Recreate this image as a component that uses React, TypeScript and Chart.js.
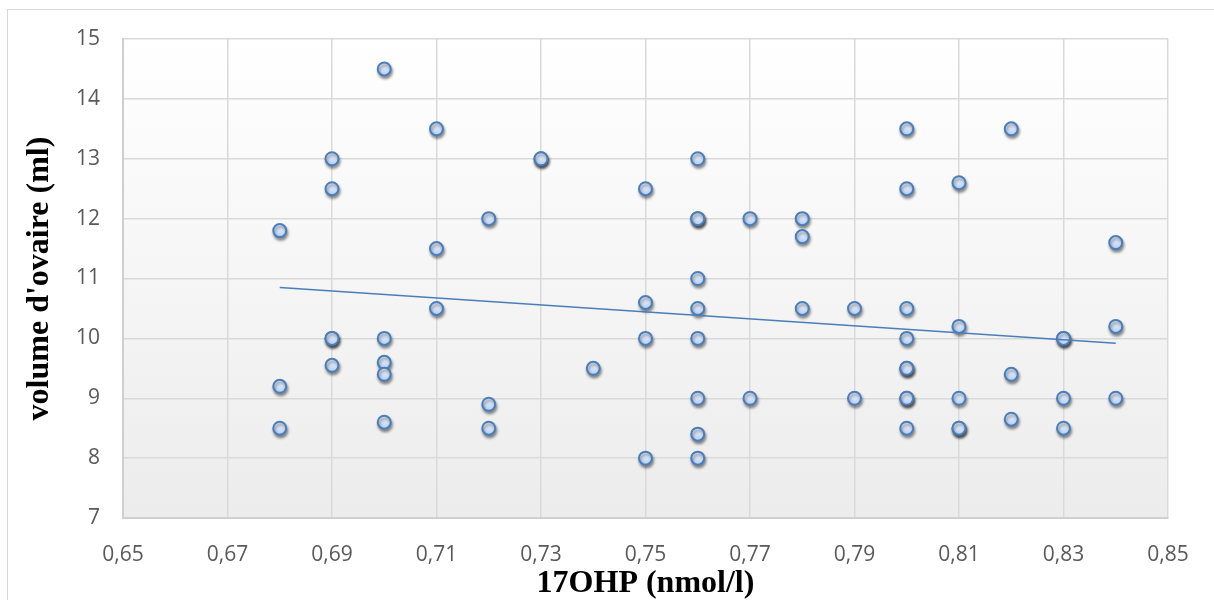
import React, { useEffect, useRef } from "react";
import { Chart, registerables } from "chart.js";

Chart.register(...registerables);

// Scatter data (17OHP in nmol/l, ovarian volume in ml)
const xValues = [
  0.68, 0.68, 0.68,
  0.69, 0.69, 0.69, 0.69, 0.69,
  0.7, 0.7, 0.7, 0.7, 0.7,
  0.71, 0.71, 0.71,
  0.72, 0.72, 0.72,
  0.73, 0.73,
  0.74,
  0.75, 0.75, 0.75, 0.75,
  0.76, 0.76, 0.76, 0.76, 0.76, 0.76, 0.76, 0.76, 0.76,
  0.77, 0.77,
  0.78, 0.78, 0.78,
  0.79, 0.79,
  0.8, 0.8, 0.8, 0.8, 0.8, 0.8, 0.8, 0.8, 0.8,
  0.81, 0.81, 0.81, 0.81, 0.81,
  0.82, 0.82, 0.82,
  0.83, 0.83, 0.83, 0.83,
  0.84, 0.84, 0.84,
];
const yValues = [
  11.8, 9.2, 8.5,
  13, 12.5, 10, 10, 9.55,
  14.5, 10, 9.6, 9.4, 8.6,
  13.5, 11.5, 10.5,
  12, 8.9, 8.5,
  13, 13,
  9.5,
  12.5, 10.6, 10, 8,
  13, 12, 12, 11, 10.5, 10, 9, 8.4, 8,
  12, 9,
  12, 11.7, 10.5,
  10.5, 9,
  13.5, 12.5, 10.5, 10, 9.5, 9.5, 9, 9, 8.5,
  12.6, 10.2, 9, 8.5, 8.5,
  13.5, 9.4, 8.65,
  10, 10, 9, 8.5,
  11.6, 10.2, 9,
];

// Linear trend line end points
const trendX = [0.68, 0.84];
const trendY = [10.85, 9.92];

const xTickValues = [0.65, 0.67, 0.69, 0.71, 0.73, 0.75, 0.77, 0.79, 0.81, 0.83, 0.85];
const yTickValues = [7, 8, 9, 10, 11, 12, 13, 14, 15];

const xTitle = "17OHP (nmol/l)";
const yTitle = "volume d'ovaire (ml)";

export default function App() {
  const ref = useRef<HTMLCanvasElement>(null);

  useEffect(() => {
    if (!ref.current) return;

    const bgPlugin = {
      id: "plotBg",
      beforeDraw(chart: any) {
        const { ctx, chartArea: a } = chart;
        if (!a) return;
        const g = ctx.createLinearGradient(0, a.top, 0, a.bottom);
        g.addColorStop(0, "#ffffff");
        g.addColorStop(1, "#ececec");
        ctx.save();
        ctx.fillStyle = g;
        ctx.fillRect(a.left, a.top, a.right - a.left, a.bottom - a.top);
        ctx.restore();
      },
    };

    const SCATTER_INDEX = 1;
    const shadowPlugin = {
      id: "pointShadow",
      beforeDatasetDraw(chart: any, args: any) {
        if (args.index !== SCATTER_INDEX) return;
        const c = chart.ctx;
        c.save();
        c.shadowColor = "rgba(0,0,0,0.4)";
        c.shadowBlur = 3;
        c.shadowOffsetX = 1;
        c.shadowOffsetY = 2.5;
      },
      afterDatasetDraw(chart: any, args: any) {
        if (args.index !== SCATTER_INDEX) return;
        chart.ctx.restore();
      },
    };

    const scatterData = xValues.map((x, i) => ({ x, y: yValues[i] }));
    const trendData = trendX.map((x, i) => ({ x, y: trendY[i] }));

    const tickFont = { family: "Open Sans", size: 21 };
    const titleFont = { family: "Liberation Serif", size: 32, weight: "bold" as const, lineHeight: 1 };

    const chart = new Chart(ref.current, {
      type: "scatter",
      data: {
        datasets: [
          {
            type: "line",
            label: "trend",
            data: trendData,
            borderColor: "#4a7ebb",
            borderWidth: 1.5,
            pointRadius: 0,
            fill: false,
            order: 0,
          } as any,
          {
            label: "points",
            data: scatterData,
            pointRadius: 6.5,
            pointBorderWidth: 2,
            borderColor: "#4a7ebb",
            pointBorderColor: "#4a7ebb",
            pointBackgroundColor: (c: any) => {
              const ch = c.chart;
              if (!ch.chartArea || !c.parsed || !ch.scales?.y) return "#c8dbf7";
              const y = ch.scales.y.getPixelForValue(c.parsed.y);
              const g = ch.ctx.createLinearGradient(0, y - 6, 0, y + 6);
              g.addColorStop(0, "#f0f6ff");
              g.addColorStop(1, "#b8d0f4");
              return g;
            },
            order: 1,
          } as any,
        ],
      },
      options: {
        animation: false,
        responsive: false,
        devicePixelRatio: 1,
        layout: { padding: { left: 0, top: 39, right: 46, bottom: 0 } },
        plugins: {
          legend: { display: false },
          tooltip: { enabled: false },
        },
        scales: {
          x: {
            type: "linear",
            min: 0.65,
            max: 0.85,
            afterBuildTicks: (s: any) => {
              s.ticks = xTickValues.map((v) => ({ value: v }));
            },
            afterFit: (s: any) => {
              s.height = 82;
            },
            ticks: {
              callback: (v: any) => Number(v).toFixed(2).replace(".", ","),
              font: tickFont,
              color: "#595959",
              padding: 24,
              maxRotation: 0,
              autoSkip: false,
            },
            grid: { color: "#d9d9d9", lineWidth: 1.5, drawTicks: false },
            border: { display: true, color: "#cfcfcf", width: 2 },
            title: {
              display: true,
              text: xTitle,
              font: titleFont,
              color: "#000000",
              padding: { top: 0, bottom: 0 },
            },
          },
          y: {
            type: "linear",
            min: 7,
            max: 15,
            afterBuildTicks: (s: any) => {
              s.ticks = yTickValues.map((v) => ({ value: v }));
            },
            afterFit: (s: any) => {
              s.width = 123;
            },
            ticks: {
              font: tickFont,
              color: "#595959",
              padding: 23,
            },
            grid: { color: "#d9d9d9", lineWidth: 1.5, drawTicks: false },
            border: { display: true, color: "#cfcfcf", width: 2 },
            title: {
              display: true,
              text: yTitle,
              font: titleFont,
              color: "#000000",
              padding: { top: 24, bottom: 0 },
            },
          },
        },
      },
      plugins: [bgPlugin, shadowPlugin],
    } as any);

    return () => chart.destroy();
  }, []);

  return (
    <div style={{ position: "fixed", left: 0, top: 0, width: 1214, height: 600, overflow: "hidden", background: "#ffffff" }}>
      <div
        style={{
          position: "absolute",
          left: 7,
          top: 9,
          width: 1400,
          height: 800,
          border: "1px solid #d6d6d6",
        }}
      />
      <canvas
        ref={ref}
        width={1214}
        height={600}
        style={{ position: "absolute", left: 0, top: 0, display: "block" }}
      />
    </div>
  );
}
